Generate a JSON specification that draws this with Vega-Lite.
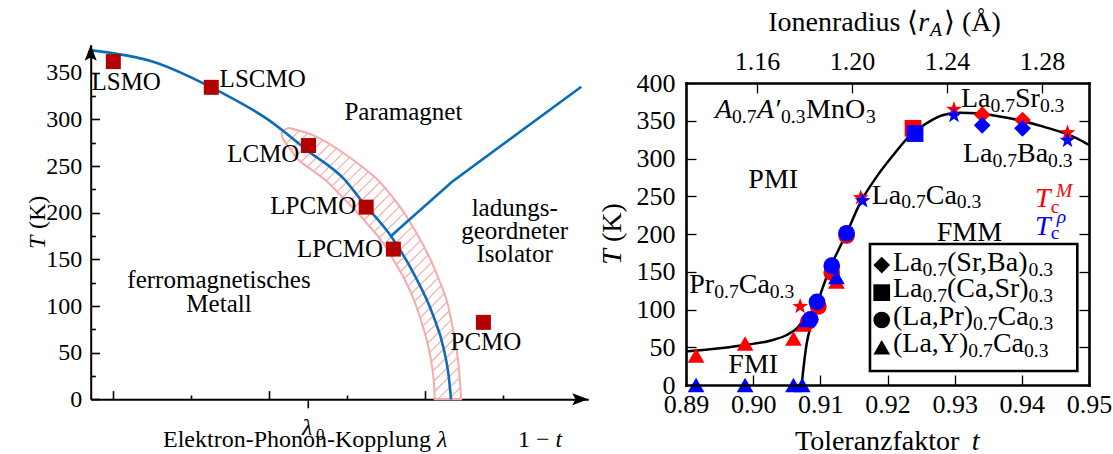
{
  "$schema": "https://vega.github.io/schema/vega-lite/v6.json",
  "width": 1113,
  "height": 454,
  "autosize": {"type": "none"},
  "padding": 0,
  "background": "white",
  "config": {
    "view": {"stroke": null},
    "font": "Liberation Serif",
    "axis": {"grid": false, "labelFont": "Liberation Serif", "labelColor": "#000", "domainColor": "#000", "tickColor": "#000", "labelFlush": false, "labelOverlap": false, "labelBound": false},
    "text": {"font": "Liberation Serif", "color": "#000"}
  },
  "datasets": {
    "band": [
      {"T": 290.9, "x": 3.2526, "x2": 3.2526},
      {"T": 288.7, "x": 3.1885, "x2": 3.3551},
      {"T": 284.4, "x": 3.1564, "x2": 3.5218},
      {"T": 277.9, "x": 3.1846, "x2": 3.6872},
      {"T": 267.2, "x": 3.2795, "x2": 3.8949},
      {"T": 256.5, "x": 3.3744, "x2": 4.0756},
      {"T": 245.8, "x": 3.5462, "x2": 4.2423},
      {"T": 235.1, "x": 3.7179, "x2": 4.3923},
      {"T": 219.0, "x": 3.9103, "x2": 4.5577},
      {"T": 202.9, "x": 4.0987, "x2": 4.7051},
      {"T": 186.8, "x": 4.2705, "x2": 4.8269},
      {"T": 170.7, "x": 4.4321, "x2": 4.9385},
      {"T": 149.3, "x": 4.5923, "x2": 5.0692},
      {"T": 127.9, "x": 4.7385, "x2": 5.1769},
      {"T": 106.4, "x": 4.8551, "x2": 5.2731},
      {"T": 85.0, "x": 4.9436, "x2": 5.3321},
      {"T": 63.6, "x": 5.0179, "x2": 5.3808},
      {"T": 42.2, "x": 5.0731, "x2": 5.4192},
      {"T": 20.7, "x": 5.1077, "x2": 5.4423},
      {"T": 0, "x": 5.1205, "x2": 5.4603}
    ],
    "hatch": [
      {"x": 3.2192, "T": 274.1, "x2": 3.3846, "T2": 287.9},
      {"x": 3.2795, "T": 267.3, "x2": 3.4923, "T2": 285.1},
      {"x": 3.3385, "T": 260.5, "x2": 3.5923, "T2": 281.7},
      {"x": 3.4077, "T": 254.4, "x2": 3.6885, "T2": 277.9},
      {"x": 3.4885, "T": 249.4, "x2": 3.7756, "T2": 273.4},
      {"x": 3.5692, "T": 244.4, "x2": 3.8628, "T2": 268.9},
      {"x": 3.65, "T": 239.3, "x2": 3.9462, "T2": 264.1},
      {"x": 3.7282, "T": 234.1, "x2": 4.0295, "T2": 259.3},
      {"x": 3.8, "T": 228.3, "x2": 4.1103, "T2": 254.2},
      {"x": 3.8692, "T": 222.3, "x2": 4.1897, "T2": 249.1},
      {"x": 3.9397, "T": 216.4, "x2": 4.2679, "T2": 243.8},
      {"x": 4.0103, "T": 210.5, "x2": 4.3449, "T2": 238.5},
      {"x": 4.0795, "T": 204.5, "x2": 4.4167, "T2": 232.7},
      {"x": 4.1474, "T": 198.4, "x2": 4.4821, "T2": 226.4},
      {"x": 4.2141, "T": 192.2, "x2": 4.5474, "T2": 220.0},
      {"x": 4.2795, "T": 185.9, "x2": 4.609, "T2": 213.4},
      {"x": 4.3449, "T": 179.5, "x2": 4.6705, "T2": 206.8},
      {"x": 4.409, "T": 173.1, "x2": 4.7282, "T2": 199.8},
      {"x": 4.4667, "T": 166.1, "x2": 4.7833, "T2": 192.6},
      {"x": 4.5205, "T": 158.8, "x2": 4.8372, "T2": 185.3},
      {"x": 4.5756, "T": 151.7, "x2": 4.8885, "T2": 177.8},
      {"x": 4.6269, "T": 144.2, "x2": 4.941, "T2": 170.4},
      {"x": 4.6782, "T": 136.7, "x2": 4.9885, "T2": 162.6},
      {"x": 4.7295, "T": 129.2, "x2": 5.0359, "T2": 154.8},
      {"x": 4.7744, "T": 121.1, "x2": 5.0821, "T2": 146.8},
      {"x": 4.8192, "T": 113.1, "x2": 5.1231, "T2": 138.5},
      {"x": 4.8615, "T": 104.8, "x2": 5.1654, "T2": 130.2},
      {"x": 4.8974, "T": 96.0, "x2": 5.2051, "T2": 121.8},
      {"x": 4.9346, "T": 87.4, "x2": 5.2436, "T2": 113.2},
      {"x": 4.9667, "T": 78.2, "x2": 5.2782, "T2": 104.3},
      {"x": 4.9987, "T": 69.1, "x2": 5.3051, "T2": 94.7},
      {"x": 5.0282, "T": 59.8, "x2": 5.3321, "T2": 85.2},
      {"x": 5.0526, "T": 50.1, "x2": 5.3538, "T2": 75.2},
      {"x": 5.0756, "T": 40.2, "x2": 5.3769, "T2": 65.4},
      {"x": 5.0923, "T": 29.8, "x2": 5.3962, "T2": 55.2},
      {"x": 5.109, "T": 19.4, "x2": 5.4141, "T2": 44.9},
      {"x": 5.1154, "T": 8.1, "x2": 5.4282, "T2": 34.3},
      {"x": 5.159, "T": 0, "x2": 5.4397, "T2": 23.5},
      {"x": 5.3, "T": 0, "x2": 5.45, "T2": 12.5}
    ],
    "tcLine": [
      {"x": 0.724, "T": 374},
      {"x": 1.51, "T": 361.8},
      {"x": 2.256, "T": 334.4},
      {"x": 2.98, "T": 300},
      {"x": 3.51, "T": 265.4},
      {"x": 3.96, "T": 236},
      {"x": 4.21, "T": 210},
      {"x": 4.55, "T": 176},
      {"x": 4.85, "T": 135},
      {"x": 5.09, "T": 92.2},
      {"x": 5.24, "T": 52.8},
      {"x": 5.30, "T": 25},
      {"x": 5.33, "T": 0}
    ],
    "coLine": [
      {"x": 4.56, "T": 175},
      {"x": 5.34, "T": 233},
      {"x": 7.0, "T": 335}
    ],
    "samples": [
      {"x": 1.0, "T": 362, "name": "LSMO"},
      {"x": 2.256, "T": 334.4, "name": "LSCMO"},
      {"x": 3.503, "T": 272, "name": "LCMO"},
      {"x": 4.242, "T": 206, "name": "LPCMO"},
      {"x": 4.591, "T": 161, "name": "LPCMO"},
      {"x": 5.745, "T": 82.5, "name": "PCMO"}
    ],
    "phaseText": [
      {"x": 1.165, "T": 331.5, "s": "LSMO"},
      {"x": 2.915, "T": 334.7, "s": "LSCMO"},
      {"x": 2.923, "T": 254.7, "s": "LCMO"},
      {"x": 3.564, "T": 198.6, "s": "LPCMO"},
      {"x": 3.906, "T": 152.8, "s": "LPCMO"},
      {"x": 5.778, "T": 52.8, "s": "PCMO"},
      {"x": 4.719, "T": 299.4, "s": "Paramagnet"},
      {"x": 6.146, "T": 196.5, "s": "ladungs-"},
      {"x": 6.146, "T": 171.4, "s": "geordneter"},
      {"x": 6.146, "T": 147.2, "s": "Isolator"},
      {"x": 2.355, "T": 118.8, "s": "ferromagnetisches"},
      {"x": 2.355, "T": 93.6, "s": "Metall"}
    ],
    "leftRoman": [
      {"x": 1.637, "T": -51.1, "s": "Elektron-Phonon-Kopplung"},
      {"x": 6.188, "T": -51.1, "s": "1 − "}
    ],
    "leftItalic": [
      {"x": 5.15, "T": -51.1, "s": "λ"},
      {"x": 6.669, "T": -51.1, "s": "t"},
      {"x": 3.4192, "T": -38.3, "s": "λ"}
    ],
    "leftSub": [
      {"x": 3.5987, "T": -43.6, "s": "0"}
    ],
    "leftYTitle": [
      {"x": 0.1244, "T": 161.1, "s": "T", "part": "symbol"},
      {"x": 0.1244, "T": 182.5, "s": "(K)", "part": "unit"}
    ],
    "rPoints": [
      {"t": 0.8915, "T": 39, "fam": "LYC", "m": "M"},
      {"t": 0.8988, "T": 55, "fam": "LYC", "m": "M"},
      {"t": 0.9060, "T": 61.5, "fam": "LYC", "m": "M"},
      {"t": 0.9075, "T": 80, "fam": "LYC", "m": "M"},
      {"t": 0.9124, "T": 137, "fam": "LYC", "m": "M"},
      {"t": 0.9082, "T": 84, "fam": "LPC", "m": "M"},
      {"t": 0.9097, "T": 104, "fam": "LPC", "m": "M"},
      {"t": 0.9117, "T": 149, "fam": "LPC", "m": "M"},
      {"t": 0.9139, "T": 198, "fam": "LPC", "m": "M"},
      {"t": 0.9238, "T": 340, "fam": "LCS", "m": "M"},
      {"t": 0.9341, "T": 358, "fam": "LSB", "m": "M"},
      {"t": 0.9401, "T": 351, "fam": "LSB", "m": "M"},
      {"t": 0.9070, "T": 104, "fam": "end", "m": "M"},
      {"t": 0.9160, "T": 248, "fam": "end", "m": "M"},
      {"t": 0.9299, "T": 365, "fam": "end", "m": "M"},
      {"t": 0.9468, "T": 334, "fam": "end", "m": "M"},
      {"t": 0.8915, "T": 0, "fam": "LYC", "m": "rho"},
      {"t": 0.8988, "T": 0, "fam": "LYC", "m": "rho"},
      {"t": 0.9060, "T": 0, "fam": "LYC", "m": "rho"},
      {"t": 0.9073, "T": 0, "fam": "LYC", "m": "rho"},
      {"t": 0.9080, "T": 86, "fam": "LYC", "m": "rho"},
      {"t": 0.9124, "T": 143, "fam": "LYC", "m": "rho"},
      {"t": 0.9085, "T": 87, "fam": "LPC", "m": "rho"},
      {"t": 0.9095, "T": 110, "fam": "LPC", "m": "rho"},
      {"t": 0.9117, "T": 158, "fam": "LPC", "m": "rho"},
      {"t": 0.9139, "T": 201, "fam": "LPC", "m": "rho"},
      {"t": 0.9241, "T": 333, "fam": "LCS", "m": "rho"},
      {"t": 0.9341, "T": 344, "fam": "LSB", "m": "rho"},
      {"t": 0.9401, "T": 340, "fam": "LSB", "m": "rho"},
      {"t": 0.9163, "T": 244, "fam": "end", "m": "rho"},
      {"t": 0.9299, "T": 357, "fam": "end", "m": "rho"},
      {"t": 0.9468, "T": 324, "fam": "end", "m": "rho"}
    ],
    "rMain": [
      {"t": 0.8900, "T": 44.5},
      {"t": 0.8936, "T": 47.3},
      {"t": 0.8988, "T": 53},
      {"t": 0.9025, "T": 58.7},
      {"t": 0.9050, "T": 66.2},
      {"t": 0.9065, "T": 75},
      {"t": 0.9075, "T": 86},
      {"t": 0.9085, "T": 95},
      {"t": 0.9095, "T": 108},
      {"t": 0.9104, "T": 130},
      {"t": 0.9114, "T": 154.5},
      {"t": 0.9127, "T": 178.8},
      {"t": 0.9139, "T": 201},
      {"t": 0.9159, "T": 240.6},
      {"t": 0.9184, "T": 276},
      {"t": 0.9209, "T": 305},
      {"t": 0.9234, "T": 331},
      {"t": 0.9258, "T": 346.6},
      {"t": 0.9283, "T": 357.6},
      {"t": 0.9308, "T": 360.7},
      {"t": 0.9333, "T": 359.9},
      {"t": 0.9382, "T": 353.2},
      {"t": 0.9432, "T": 342.2},
      {"t": 0.9482, "T": 326.7},
      {"t": 0.9500, "T": 318}
    ],
    "rSteep": [
      {"t": 0.90722, "T": 0},
      {"t": 0.90757, "T": 28.7},
      {"t": 0.90797, "T": 55},
      {"t": 0.90871, "T": 81.7},
      {"t": 0.9095, "T": 107}
    ],
    "legendBox": [
      {"t": 0.91739, "t2": 0.94826, "T": 18.5, "T2": 186.8}
    ],
    "legendKeys": [
      {"t": 0.91914, "T": 158.9, "fam": "LSB"},
      {"t": 0.91914, "T": 122.3, "fam": "LCS"},
      {"t": 0.91914, "T": 86.1, "fam": "LPC"},
      {"t": 0.91914, "T": 49.9, "fam": "LYC"}
    ],
    "rRoman": [
      {"t": 0.90787, "T": 353.6, "s": "MnO"},
      {"t": 0.89049, "T": 121.5, "s": "Pr"},
      {"t": 0.89785, "T": 121.5, "s": "Ca"},
      {"t": 0.91765, "T": 239.7, "s": "La"},
      {"t": 0.92569, "T": 239.7, "s": "Ca"},
      {"t": 0.93094, "T": 368.6, "s": "La"},
      {"t": 0.93898, "T": 368.6, "s": "Sr"},
      {"t": 0.93124, "T": 295.8, "s": "La"},
      {"t": 0.93928, "T": 295.8, "s": "Ba"},
      {"t": 0.92082, "T": 151.4, "s": "La"},
      {"t": 0.92886, "T": 151.4, "s": "(Sr,Ba)"},
      {"t": 0.92082, "T": 116.2, "s": "La"},
      {"t": 0.92886, "T": 116.2, "s": "(Ca,Sr)"},
      {"t": 0.92082, "T": 79.5, "s": "(La,Pr)"},
      {"t": 0.93639, "T": 79.5, "s": "Ca"},
      {"t": 0.92082, "T": 44.1, "s": "(La,Y)"},
      {"t": 0.93569, "T": 44.1, "s": "Ca"},
      {"t": 0.89928, "T": 260.5, "s": "PMI"},
      {"t": 0.8963, "T": 15.5, "s": "FMI"},
      {"t": 0.92733, "T": 191.1, "s": "FMM"},
      {"t": 0.90225, "T": 469.3, "s": "Ionenradius"},
      {"t": 0.92286, "T": 469.3, "s": "⟨"},
      {"t": 0.92841, "T": 469.3, "s": "⟩ (Å)"},
      {"t": 0.90623, "T": -86.1, "s": "Toleranzfaktor"}
    ],
    "rSub": [
      {"t": 0.89686, "T": 347.0, "s": "0.7"},
      {"t": 0.90414, "T": 347.0, "s": "0.3"},
      {"t": 0.9168, "T": 347.0, "s": "3"},
      {"t": 0.8942, "T": 114.8, "s": "0.7"},
      {"t": 0.90248, "T": 114.8, "s": "0.3"},
      {"t": 0.92204, "T": 234.0, "s": "0.7"},
      {"t": 0.93032, "T": 234.0, "s": "0.3"},
      {"t": 0.93533, "T": 362.0, "s": "0.7"},
      {"t": 0.94269, "T": 362.0, "s": "0.3"},
      {"t": 0.93563, "T": 289.1, "s": "0.7"},
      {"t": 0.94391, "T": 289.1, "s": "0.3"},
      {"t": 0.92521, "T": 144.8, "s": "0.7"},
      {"t": 0.94101, "T": 144.8, "s": "0.3"},
      {"t": 0.92521, "T": 109.5, "s": "0.7"},
      {"t": 0.94101, "T": 109.5, "s": "0.3"},
      {"t": 0.93274, "T": 72.8, "s": "0.7"},
      {"t": 0.94102, "T": 72.8, "s": "0.3"},
      {"t": 0.93204, "T": 37.5, "s": "0.7"},
      {"t": 0.94032, "T": 37.5, "s": "0.3"}
    ],
    "rItalic": [
      {"t": 0.89432, "T": 353.6, "s": "A"},
      {"t": 0.90057, "T": 353.6, "s": "A′"},
      {"t": 0.92459, "T": 469.3, "s": "r"},
      {"t": 0.93254, "T": -86.1, "s": "t"}
    ],
    "rItalicSub": [
      {"t": 0.92633, "T": 462.7, "s": "A"}
    ],
    "tcText": [
      {"t": 0.94196, "T": 235.4, "s": "T", "m": "M", "part": "base"},
      {"t": 0.9443, "T": 227.4, "s": "c", "m": "M", "part": "sub"},
      {"t": 0.94509, "T": 249.4, "s": "M", "m": "M", "part": "sup"},
      {"t": 0.94196, "T": 198.7, "s": "T", "m": "rho", "part": "base"},
      {"t": 0.9443, "T": 193.0, "s": "c", "m": "rho", "part": "sub"},
      {"t": 0.94519, "T": 215.0, "s": "ρ", "m": "rho", "part": "sup"}
    ],
    "rYTitle": [
      {"t": 0.88032, "T": 159.3, "s": "T", "part": "symbol"},
      {"t": 0.88032, "T": 189.3, "s": "(K)", "part": "unit"}
    ]
  },
  "layer": [
    {
      "encoding": {
        "x": {"field": "x", "type": "quantitative", "scale": {"domain": [0.71, 7.09], "range": [90.7, 588.3], "zero": false, "nice": false},
          "axis": {"orient": "bottom", "offset": -54.7, "values": [1, 2, 3, 4, 5, 6], "labels": false, "title": null, "domainWidth": 2, "tickWidth": 1.6,
            "tickSize": {"condition": {"test": "datum.value % 2 == 1", "value": -8.7}, "value": -4.3}}},
        "y": {"field": "T", "type": "quantitative", "scale": {"domain": [0, 380], "range": [399.3, 44.8], "zero": false, "nice": false},
          "axis": {"orient": "left", "offset": -90.7, "values": [0, 25, 50, 75, 100, 125, 150, 175, 200, 225, 250, 275, 300, 325, 350], "title": null, "domainWidth": 2, "tickWidth": 1.6,
            "tickSize": {"condition": {"test": "datum.value % 50 == 0", "value": -8.7}, "value": -4.7},
            "labelExpr": "datum.value % 50 == 0 ? datum.label : ''", "labelFontSize": 24, "labelPadding": 17.7}}
      },
      "layer": [
        {
          "data": {"name": "band"},
          "mark": {"type": "area", "orient": "horizontal", "interpolate": "monotone", "fill": "white", "fillOpacity": 0, "stroke": "#f8aaaa", "strokeWidth": 2},
          "encoding": {"x2": {"field": "x2"}}
        },
        {
          "data": {"name": "hatch"},
          "mark": {"type": "rule", "color": "#f8aaaa", "strokeWidth": 1.2},
          "encoding": {"x2": {"field": "x2"}, "y2": {"field": "T2"}}
        },
        {
          "data": {"name": "tcLine"},
          "mark": {"type": "line", "interpolate": "monotone", "color": "#0b6db6", "strokeWidth": 2.6}
        },
        {
          "data": {"name": "coLine"},
          "mark": {"type": "line", "color": "#0b6db6", "strokeWidth": 2.6}
        },
        {
          "data": {"name": "samples"},
          "mark": {"type": "square", "size": 225, "color": "#b30000", "opacity": 1, "filled": true}
        },
        {
          "data": {"name": "phaseText"},
          "mark": {"type": "text", "fontSize": 25, "align": "center", "baseline": "alphabetic"},
          "encoding": {"text": {"field": "s"}}
        },
        {
          "data": {"name": "leftRoman"},
          "mark": {"type": "text", "fontSize": 24, "align": "left", "baseline": "alphabetic"},
          "encoding": {"text": {"field": "s"}}
        },
        {
          "data": {"name": "leftItalic"},
          "mark": {"type": "text", "fontSize": 24, "fontStyle": "italic", "align": "left", "baseline": "alphabetic"},
          "encoding": {"text": {"field": "s"}}
        },
        {
          "data": {"name": "leftSub"},
          "mark": {"type": "text", "fontSize": 17, "align": "left", "baseline": "alphabetic"},
          "encoding": {"text": {"field": "s"}}
        },
        {
          "data": {"name": "leftYTitle"},
          "transform": [{"filter": "datum.part == 'symbol'"}],
          "mark": {"type": "text", "fontSize": 24, "fontStyle": "italic", "angle": 270, "align": "left", "baseline": "alphabetic"},
          "encoding": {"text": {"field": "s"}}
        },
        {
          "data": {"name": "leftYTitle"},
          "transform": [{"filter": "datum.part == 'unit'"}],
          "mark": {"type": "text", "fontSize": 24, "angle": 270, "align": "left", "baseline": "alphabetic"},
          "encoding": {"text": {"field": "s"}}
        },
        {
          "data": {"values": [{"x": 3.5, "T": 0, "T2": -9.6}]},
          "mark": {"type": "rule", "color": "black", "strokeWidth": 1.6},
          "encoding": {"y2": {"field": "T2"}}
        },
        {
          "data": {"values": [{"x": 0.71, "T": 371.4, "dir": "up"}, {"x": 6.987, "T": 0, "dir": "right"}]},
          "mark": {"type": "point", "filled": true, "color": "black", "opacity": 1, "size": 256},
          "encoding": {
            "shape": {"field": "dir", "type": "nominal", "scale": {"domain": ["up", "right"], "range": ["M0,-1L0.75,1L0,0.6L-0.75,1Z", "M1,0L-1,0.75L-0.6,0L-1,-0.75Z"]}, "legend": null}
          }
        }
      ]
    },
    {
      "layer": [
        {
          "encoding": {
            "x": {"field": "t", "type": "quantitative", "scale": {"domain": [0.89, 0.95], "range": [686, 1089], "zero": false, "nice": false},
              "axis": {"orient": "bottom", "offset": -69, "values": [0.89, 0.9, 0.91, 0.92, 0.93, 0.94, 0.95], "format": ".2f", "title": null, "domainWidth": 2.6, "domainCap": "square", "tickSize": -10, "tickWidth": 1.3, "labelFontSize": 26, "labelPadding": 16, "zindex": 1}},
            "y": {"field": "T", "type": "quantitative", "scale": {"domain": [0, 400], "range": [385, 83], "zero": false, "nice": false},
              "axis": {"orient": "left", "offset": -686, "values": [0, 50, 100, 150, 200, 250, 300, 350, 400], "title": null, "domainWidth": 2.6, "domainCap": "square", "tickSize": -10, "tickWidth": 1.3, "labelFontSize": 26, "labelPadding": 21, "zindex": 1}}
          },
          "layer": [
            {
              "data": {"name": "legendBox"},
              "mark": {"type": "rect", "fill": "white", "stroke": "black", "strokeWidth": 2.6},
              "encoding": {"x2": {"field": "t2"}, "y2": {"field": "T2"}}
            },
            {
              "data": {"name": "rMain"},
              "mark": {"type": "line", "interpolate": "monotone", "color": "black", "strokeWidth": 2.5}
            },
            {
              "data": {"name": "rSteep"},
              "mark": {"type": "line", "interpolate": "monotone", "color": "black", "strokeWidth": 2.5}
            },
            {
              "data": {"name": "rPoints"},
              "mark": {"type": "point", "filled": true, "opacity": 1, "size": 280},
              "encoding": {
                "shape": {"field": "fam", "type": "nominal", "scale": {"domain": ["LSB", "LCS", "LPC", "LYC", "end"], "range": ["diamond", "square", "circle", "triangle-up", "M0,-1L0.235,-0.324L0.951,-0.309L0.38,0.124L0.588,0.809L0,0.4L-0.588,0.809L-0.38,0.124L-0.951,-0.309L-0.235,-0.324Z"]}, "legend": null},
                "color": {"field": "m", "type": "nominal", "scale": {"domain": ["M", "rho"], "range": ["#ff0000", "#0000ff"]}, "legend": null}
              }
            },
            {
              "data": {"name": "legendKeys"},
              "mark": {"type": "point", "filled": true, "opacity": 1, "size": 280, "color": "black"},
              "encoding": {
                "shape": {"field": "fam", "type": "nominal", "scale": {"domain": ["LSB", "LCS", "LPC", "LYC", "end"], "range": ["diamond", "square", "circle", "triangle-up", "M0,-1L0.235,-0.324L0.951,-0.309L0.38,0.124L0.588,0.809L0,0.4L-0.588,0.809L-0.38,0.124L-0.951,-0.309L-0.235,-0.324Z"]}, "legend": null}
              }
            },
            {
              "data": {"name": "rRoman"},
              "mark": {"type": "text", "fontSize": 28, "align": "left", "baseline": "alphabetic"},
              "encoding": {"text": {"field": "s"}}
            },
            {
              "data": {"name": "rSub"},
              "mark": {"type": "text", "fontSize": 19.6, "align": "left", "baseline": "alphabetic"},
              "encoding": {"text": {"field": "s"}}
            },
            {
              "data": {"name": "rItalic"},
              "mark": {"type": "text", "fontSize": 28, "fontStyle": "italic", "align": "left", "baseline": "alphabetic"},
              "encoding": {"text": {"field": "s"}}
            },
            {
              "data": {"name": "rItalicSub"},
              "mark": {"type": "text", "fontSize": 19.6, "fontStyle": "italic", "align": "left", "baseline": "alphabetic"},
              "encoding": {"text": {"field": "s"}}
            },
            {
              "data": {"name": "tcText"},
              "transform": [{"filter": "datum.part == 'base'"}],
              "mark": {"type": "text", "fontSize": 28, "fontStyle": "italic", "align": "left", "baseline": "alphabetic"},
              "encoding": {"text": {"field": "s"}, "color": {"field": "m", "type": "nominal", "scale": {"domain": ["M", "rho"], "range": ["#ff0000", "#0000ff"]}, "legend": null}}
            },
            {
              "data": {"name": "tcText"},
              "transform": [{"filter": "datum.part == 'sub'"}],
              "mark": {"type": "text", "fontSize": 19.6, "align": "left", "baseline": "alphabetic"},
              "encoding": {"text": {"field": "s"}, "color": {"field": "m", "type": "nominal", "scale": {"domain": ["M", "rho"], "range": ["#ff0000", "#0000ff"]}, "legend": null}}
            },
            {
              "data": {"name": "tcText"},
              "transform": [{"filter": "datum.part == 'sup'"}],
              "mark": {"type": "text", "fontSize": 19.6, "fontStyle": "italic", "align": "left", "baseline": "alphabetic"},
              "encoding": {"text": {"field": "s"}, "color": {"field": "m", "type": "nominal", "scale": {"domain": ["M", "rho"], "range": ["#ff0000", "#0000ff"]}, "legend": null}}
            },
            {
              "data": {"name": "rYTitle"},
              "transform": [{"filter": "datum.part == 'symbol'"}],
              "mark": {"type": "text", "fontSize": 28, "fontStyle": "italic", "angle": 270, "align": "left", "baseline": "alphabetic"},
              "encoding": {"text": {"field": "s"}}
            },
            {
              "data": {"name": "rYTitle"},
              "transform": [{"filter": "datum.part == 'unit'"}],
              "mark": {"type": "text", "fontSize": 28, "angle": 270, "align": "left", "baseline": "alphabetic"},
              "encoding": {"text": {"field": "s"}}
            }
          ]
        },
        {
          "data": {"values": [{"r": 1.16}, {"r": 1.2}, {"r": 1.24}, {"r": 1.28}]},
          "mark": {"type": "rule", "opacity": 0},
          "encoding": {
            "x": {"field": "r", "type": "quantitative", "scale": {"domain": [1.1301, 1.2998], "range": [686, 1089], "zero": false, "nice": false},
              "axis": {"orient": "top", "offset": -83, "values": [1.16, 1.2, 1.24, 1.28], "format": ".2f", "title": null, "domainWidth": 2.6, "domainCap": "square", "tickSize": -10, "tickWidth": 1.3, "labelFontSize": 26, "labelPadding": 19, "zindex": 1}}
          }
        },
        {
          "data": {"values": [{"T": 0}, {"T": 400}]},
          "mark": {"type": "rule", "opacity": 0},
          "encoding": {
            "y": {"field": "T", "type": "quantitative", "scale": {"domain": [0, 400], "range": [385, 83], "zero": false, "nice": false},
              "axis": {"orient": "right", "offset": -24, "values": [0, 50, 100, 150, 200, 250, 300, 350, 400], "labels": false, "title": null, "domainWidth": 2.6, "domainCap": "square", "tickSize": -10, "tickWidth": 1.3, "zindex": 1}}
          }
        }
      ],
      "resolve": {"scale": {"x": "independent", "y": "independent"}}
    }
  ],
  "resolve": {"scale": {"x": "independent", "y": "independent", "shape": "independent", "color": "independent"}}
}
